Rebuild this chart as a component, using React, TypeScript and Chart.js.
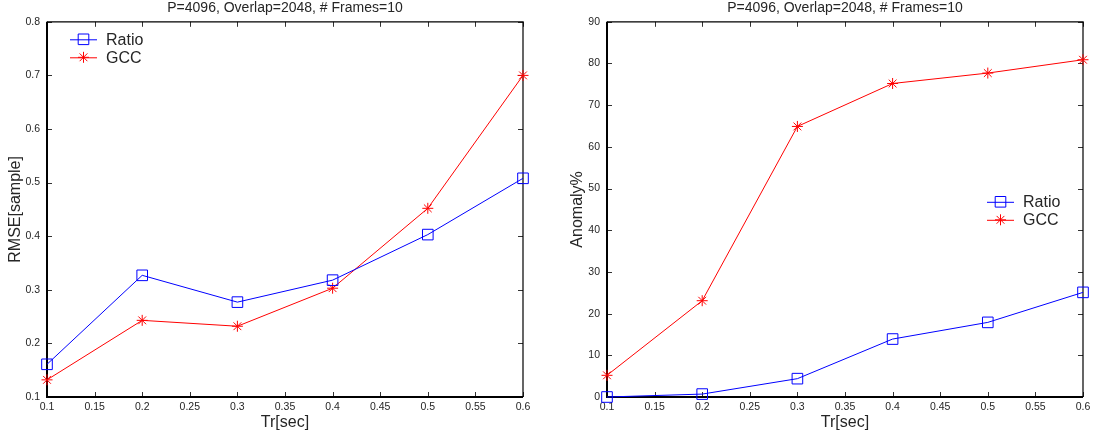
import React, { useEffect, useRef } from 'react';
import { Chart, registerables } from 'chart.js';

Chart.register(...registerables);

// ---------- data ----------
const trSec = [0.1, 0.2, 0.3, 0.4, 0.5, 0.6];
const rmseRatio = [0.161, 0.327, 0.277, 0.318, 0.403, 0.508];
const rmseGcc = [0.132, 0.243, 0.232, 0.303, 0.452, 0.7];
const anomalyRatio = [0.0, 0.7, 4.4, 13.9, 17.9, 25.1];
const anomalyGcc = [5.2, 23.1, 64.9, 75.2, 77.7, 80.9];

const xTicks = [0.1, 0.15, 0.2, 0.25, 0.3, 0.35, 0.4, 0.45, 0.5, 0.55, 0.6];
const rmseTicks = [0.1, 0.2, 0.3, 0.4, 0.5, 0.6, 0.7, 0.8];
const anomalyTicks = [0, 10, 20, 30, 40, 50, 60, 70, 80, 90];

const seriesNames = ['Ratio', 'GCC'];
const titleText = 'P=4096, Overlap=2048, # Frames=10';
const xTitle = 'Tr[sec]';
const leftYTitle = 'RMSE[sample]';
const rightYTitle = 'Anomaly%';

// ---------- styles ----------
const FONT = "'Liberation Sans', Arial, Helvetica, sans-serif";
const TEXT = '#262626';
const BLUE = '#0000ff';
const RED = '#ff0000';

const fmt = (v: number) => String(Number(v.toFixed(3)));

const matBoxPlugin = {
  id: 'matBox',
  beforeDatasetsDraw(chart: any) {
    const { ctx, chartArea: a, scales } = chart;
    ctx.save();
    // inward tick marks
    ctx.strokeStyle = '#333';
    ctx.lineWidth = 1;
    const len = 5;
    ctx.beginPath();
    scales.x.ticks.forEach((t: any) => {
      const px = Math.round(scales.x.getPixelForValue(t.value)) + 0.5;
      ctx.moveTo(px, a.bottom);
      ctx.lineTo(px, a.bottom - len);
      ctx.moveTo(px, a.top);
      ctx.lineTo(px, a.top + len);
    });
    scales.y.ticks.forEach((t: any) => {
      const py = Math.round(scales.y.getPixelForValue(t.value)) + 0.5;
      ctx.moveTo(a.left, py);
      ctx.lineTo(a.left + len, py);
      ctx.moveTo(a.right, py);
      ctx.lineTo(a.right - len, py);
    });
    ctx.stroke();
    // box
    ctx.strokeStyle = '#000';
    ctx.lineWidth = 1.2;
    ctx.beginPath();
    ctx.moveTo(a.left, a.top);
    ctx.lineTo(a.right, a.top);
    ctx.lineTo(a.right, a.bottom);
    ctx.stroke();
    ctx.lineWidth = 2;
    ctx.beginPath();
    ctx.moveTo(a.left, a.top);
    ctx.lineTo(a.left, a.bottom);
    ctx.lineTo(a.right, a.bottom);
    ctx.stroke();
    ctx.restore();
  },
};

function drawMarker(ctx: CanvasRenderingContext2D, kind: string, x: number, y: number, color: string) {
  ctx.strokeStyle = color;
  ctx.lineWidth = 1;
  ctx.beginPath();
  if (kind === 'rect') {
    const h = 5.3;
    ctx.rect(x - h, y - h, 2 * h, 2 * h);
  } else {
    const r = 5.5;
    const d = r * Math.SQRT1_2;
    ctx.moveTo(x - r, y);
    ctx.lineTo(x + r, y);
    ctx.moveTo(x, y - r);
    ctx.lineTo(x, y + r);
    ctx.moveTo(x - d, y - d);
    ctx.lineTo(x + d, y + d);
    ctx.moveTo(x - d, y + d);
    ctx.lineTo(x + d, y - d);
  }
  ctx.stroke();
}

const matLegendPlugin = {
  id: 'matLegend',
  afterDraw(chart: any, _args: any, opts: any) {
    const { ctx, chartArea: a } = chart;
    const x0 = opts.anchor === 'right' ? a.right + opts.dx : a.left + opts.dx;
    const y0 = a.top + opts.dy;
    const kinds = ['rect', 'star'];
    const colors = [BLUE, RED];
    ctx.save();
    seriesNames.forEach((name, i) => {
      const y = y0 + i * 18;
      ctx.strokeStyle = colors[i];
      ctx.lineWidth = 1;
      ctx.beginPath();
      ctx.moveTo(x0, y + 0.5);
      ctx.lineTo(x0 + 27, y + 0.5);
      ctx.stroke();
      drawMarker(ctx, kinds[i], x0 + 13.5, y, colors[i]);
      ctx.fillStyle = TEXT;
      ctx.font = `16px ${FONT}`;
      ctx.textAlign = 'left';
      ctx.textBaseline = 'middle';
      ctx.fillText(name, x0 + 36, y + 1);
    });
    ctx.restore();
  },
};

type PanelProps = {
  left: number;
  width: number;
  rightPad: number;
  yTitle: string;
  yTitlePad: number;
  ratio: number[];
  gcc: number[];
  yMin: number;
  yMax: number;
  yTicks: number[];
  legend: { anchor: string; dx: number; dy: number };
};

function Panel(p: PanelProps) {
  const ref = useRef<HTMLCanvasElement>(null);
  useEffect(() => {
    const tickFont = { family: FONT, size: 10.5 };
    const chart = new Chart(ref.current as HTMLCanvasElement, {
      type: 'line',
      data: {
        datasets: [
          {
            label: seriesNames[0],
            data: trSec.map((x, i) => ({ x, y: p.ratio[i] })),
            borderColor: BLUE,
            borderWidth: 1,
            pointStyle: 'rect',
            pointRadius: 7.5,
            pointBorderColor: BLUE,
            pointBackgroundColor: 'rgba(0,0,0,0)',
            pointBorderWidth: 1,
            tension: 0,
            clip: false,
          } as any,
          {
            label: seriesNames[1],
            data: trSec.map((x, i) => ({ x, y: p.gcc[i] })),
            borderColor: RED,
            borderWidth: 1,
            pointStyle: 'star',
            pointRadius: 5.5,
            pointBorderColor: RED,
            pointBackgroundColor: RED,
            pointBorderWidth: 1,
            tension: 0,
            clip: false,
          } as any,
        ],
      },
      options: {
        responsive: false,
        animation: false,
        devicePixelRatio: 1,
        layout: { padding: { left: 0, right: p.rightPad, top: 0, bottom: 0 } },
        plugins: {
          legend: { display: false },
          tooltip: { enabled: false },
          title: {
            display: true,
            text: titleText,
            fullSize: false,
            color: TEXT,
            font: { family: FONT, size: 14, weight: 'normal' },
            padding: { top: 0, bottom: 5 },
          },
          matLegend: p.legend,
        } as any,
        scales: {
          x: {
            type: 'linear',
            min: 0.1,
            max: 0.6,
            afterBuildTicks: (s: any) => {
              s.ticks = xTicks.map((v) => ({ value: v }));
            },
            afterFit: (s: any) => {
              s.height = 41;
            },
            grid: { display: false, drawTicks: false },
            border: { display: false },
            ticks: {
              font: tickFont,
              color: TEXT,
              padding: 4,
              autoSkip: false,
              maxRotation: 0,
              callback: (v: any) => fmt(Number(v)),
            },
            title: {
              display: true,
              text: xTitle,
              color: TEXT,
              font: { family: FONT, size: 16 },
              padding: { top: 0, bottom: 6 },
            },
          },
          y: {
            type: 'linear',
            min: p.yMin,
            max: p.yMax,
            afterBuildTicks: (s: any) => {
              s.ticks = p.yTicks.map((v) => ({ value: v }));
            },
            afterFit: (s: any) => {
              s.width = 47;
            },
            grid: { display: false, drawTicks: false },
            border: { display: false },
            ticks: {
              font: tickFont,
              color: TEXT,
              padding: 7,
              autoSkip: false,
              callback: (v: any) => fmt(Number(v)),
            },
            title: {
              display: true,
              text: p.yTitle,
              color: TEXT,
              font: { family: FONT, size: 16 },
              padding: { top: p.yTitlePad, bottom: 0 },
            },
          },
        } as any,
      },
      plugins: [matBoxPlugin, matLegendPlugin],
    });
    return () => chart.destroy();
  }, []);
  return (
    <canvas
      ref={ref}
      width={p.width}
      height={438}
      style={{ position: 'absolute', left: p.left, top: 0, width: p.width, height: 438 }}
    />
  );
}

export default function App() {
  return (
    <div style={{ position: 'absolute', left: 0, top: 0, width: 1095, height: 438, background: '#fff', overflow: 'hidden' }}>
      <Panel
        left={0}
        width={560}
        rightPad={37}
        yTitle={leftYTitle}
        yTitlePad={6}
        ratio={rmseRatio}
        gcc={rmseGcc}
        yMin={0.1}
        yMax={0.8}
        yTicks={rmseTicks}
        legend={{ anchor: 'left', dx: 23, dy: 17.5 }}
      />
      <Panel
        left={560}
        width={535}
        rightPad={12}
        yTitle={rightYTitle}
        yTitlePad={8}
        ratio={anomalyRatio}
        gcc={anomalyGcc}
        yMin={0}
        yMax={90}
        yTicks={anomalyTicks}
        legend={{ anchor: 'right', dx: -96, dy: 180 }}
      />
    </div>
  );
}
